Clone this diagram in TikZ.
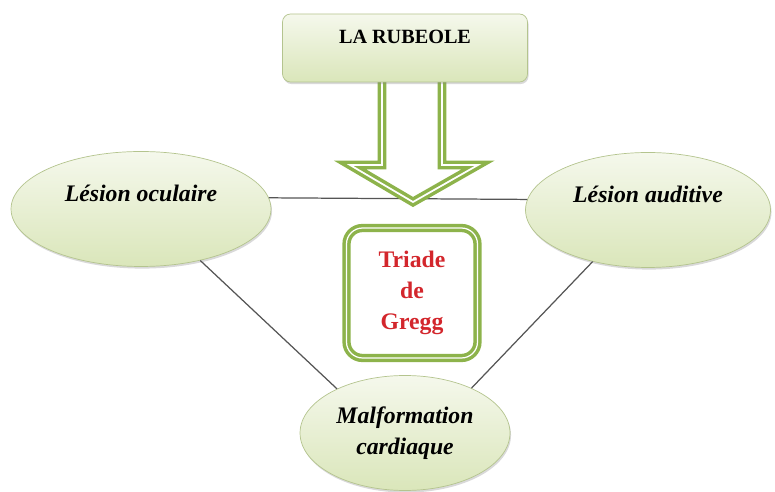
\documentclass[tikz,border=0pt]{standalone}
\usepackage{fontspec}
\setmainfont{Liberation Serif}
\usetikzlibrary{shapes.geometric, shadows}
\definecolor{feuille}{HTML}{8DB34B}
\definecolor{pale}{HTML}{F5F8EC}
\definecolor{tendre}{HTML}{DAE6BA}
\definecolor{contour}{HTML}{B4C48E}
\definecolor{rouge}{HTML}{D3262C}
\definecolor{trait}{HTML}{555555}

\begin{document}
\begin{tikzpicture}[x = 0.02cm, y = -0.02cm,
    ombre/.style = {drop shadow = {opacity = 0.3, shadow xshift = 0.6pt, shadow yshift = -1.2pt}},
    ovale/.style = {ellipse, draw = contour, top color = pale, bottom color = tendre, inner sep = 0pt,
        align = center, font = \fontsize{13.5}{18}\selectfont\bfseries\itshape, ombre},
    titre/.style = {rectangle, rounded corners = 0.16cm, draw = contour, top color = pale, bottom color = tendre,
        minimum width = 4.9cm, minimum height = 1.36cm, align = center,
        font = \fontsize{11.5}{12.4}\selectfont\bfseries, ombre},
    triade/.style = {rectangle, rounded corners = 0.32cm, draw = feuille, line width = 2pt,
        double = white, double distance = 0.7pt, fill = white, minimum width = 2.62cm, minimum height = 2.6cm,
        align = center, text = rouge, font = \fontsize{13.5}{17.6}\selectfont\bfseries},
    lien/.style = {draw = trait, line width = 0.7pt}]
    \useasboundingbox (0,0) rectangle (775,492);
    % les trois atteintes
    \node[ovale, minimum width = 5.2cm, minimum height = 2.3cm] (oculaire) at (141,209) {L\'esion oculaire\\\mbox{}};
    \node[ovale, minimum width = 4.9cm, minimum height = 2.3cm] (auditive) at (648,210) {L\'esion auditive\\\mbox{}};
    \node[ovale, minimum width = 4.2cm, minimum height = 2.3cm] (cardiaque) at (405,433) {Malformation\\cardiaque};
    % liens
    \draw[lien] (oculaire.5) -- (auditive.175);
    \draw[lien] (oculaire.-41) -- (cardiaque.147);
    \draw[lien] (auditive.-137) -- (cardiaque.34);
    % fleche creuse
    \draw[feuille, line width = 2pt, double = white, double distance = 1pt, fill = white]
        (382,70) -- (382,165) -- (350,165) -- (413,202) -- (478,165) -- (442,165) -- (442,70) -- cycle;
    \node[titre] (rubeole) at (405,48) {LA RUBEOLE\\\mbox{}};
    \node[triade] (gregg) at (412,293) {Triade\\de\\Gregg};
\end{tikzpicture}
\end{document}
